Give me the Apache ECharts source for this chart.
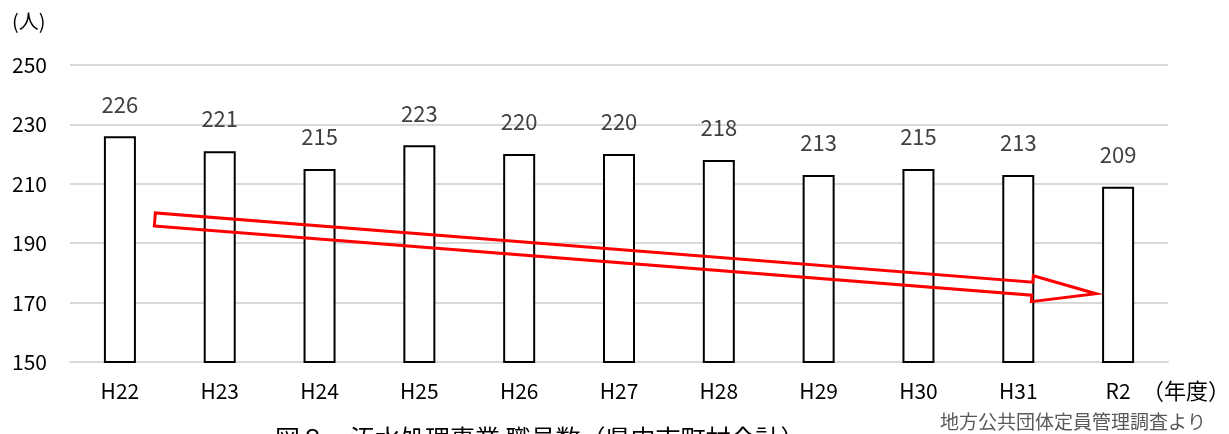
<!DOCTYPE html>
<html>
<head>
<meta charset="utf-8">
<script src="https://cdn.jsdelivr.net/npm/echarts@6/dist/echarts.min.js"></script>
<style>
  html, body { margin: 0; padding: 0; background: #fff; }
  #chart { width: 1229px; height: 434px; }
</style>
</head>
<body>
<div id="chart"></div>
<script>
// Fiscal years and staff counts
const years = ['H22', 'H23', 'H24', 'H25', 'H26', 'H27', 'H28', 'H29', 'H30', 'H31', 'R2'];
const staff = [226, 221, 215, 223, 220, 220, 218, 213, 215, 213, 209];
const yTicks = [150, 170, 190, 210, 230, 250];

// Downward trend arrow, in category position / axis value terms
const trendFrom = { pos: 0.35, value: 198 };
const trendTo = { pos: 9.78, value: 173 };

const FONT = '"Noto Sans CJK JP", "Noto Sans", sans-serif';

const chart = echarts.init(document.getElementById('chart'), null, { renderer: 'canvas' });

chart.setOption({
  animation: false,
  backgroundColor: '#ffffff',
  grid: { left: 70, right: 61, top: 65, bottom: 72, containLabel: false },
  xAxis: {
    type: 'category',
    data: years,
    axisLine: { show: true, lineStyle: { color: '#d9d9d9', width: 2 } },
    axisTick: { show: false },
    axisLabel: { color: '#000', fontSize: 21, fontFamily: FONT, margin: 19 }
  },
  yAxis: {
    type: 'value',
    min: yTicks[0],
    max: yTicks[yTicks.length - 1],
    interval: 20,
    axisLine: { show: false },
    axisTick: { show: false },
    splitLine: { lineStyle: { color: '#d9d9d9', width: 2 } },
    axisLabel: { color: '#000', fontSize: 21, fontFamily: FONT, align: 'left', margin: 58 }
  },
  series: [{
    type: 'bar',
    data: staff,
    barWidth: 32,
    itemStyle: { color: '#ffffff', borderColor: '#000000', borderWidth: 2 },
    label: {
      show: true,
      position: 'top',
      distance: 21,
      color: '#404040',
      fontSize: 22,
      fontFamily: FONT
    }
  }],
  graphic: [
    { type: 'text', left: 12, top: 11, style: { text: '(人)', fill: '#000', font: '20px ' + FONT } },
    { type: 'text', left: 1142, top: 380, style: { text: '（年度）', fill: '#000', font: '22px ' + FONT } },
    { type: 'text', left: 940, top: 412, style: { text: '地方公共団体定員管理調査より', fill: '#595959', font: '19px ' + FONT } },
    { type: 'text', left: 275, top: 426, style: { text: '図８　汚水処理事業 職員数（県内市町村合計）', fill: '#000', font: '25px ' + FONT } }
  ]
});

// Build the outlined block arrow from axis coordinates
function drawTrendArrow() {
  const x0 = chart.convertToPixel({ xAxisIndex: 0 }, years[0]);
  const x1 = chart.convertToPixel({ xAxisIndex: 0 }, years[years.length - 1]);
  const step = (x1 - x0) / (years.length - 1);
  const px = p => x0 + p * step;
  const py = v => chart.convertToPixel({ yAxisIndex: 0 }, v);

  const sx = px(trendFrom.pos), sy = py(trendFrom.value);
  const ex = px(trendTo.pos), ey = py(trendTo.value);
  const dx = ex - sx, dy = ey - sy;
  const len = Math.sqrt(dx * dx + dy * dy);
  const ux = dx / len, uy = dy / len;
  const nx = -uy, ny = ux;
  const half = 6.5, headHalf = 13, headLen = 64;
  const bx = ex - ux * headLen, by = ey - uy * headLen;
  const pts = [
    [sx + nx * half, sy + ny * half],
    [bx + nx * half, by + ny * half],
    [bx + nx * headHalf, by + ny * headHalf],
    [ex, ey],
    [bx - nx * headHalf, by - ny * headHalf],
    [bx - nx * half, by - ny * half],
    [sx - nx * half, sy - ny * half]
  ];
  chart.setOption({
    graphic: [{
      id: 'trend',
      type: 'polygon',
      shape: { points: pts },
      style: { fill: 'rgba(0,0,0,0)', stroke: '#ff0000', lineWidth: 3, lineJoin: 'miter' },
      z: 100
    }]
  });
}
drawTrendArrow();
</script>
</body>
</html>
